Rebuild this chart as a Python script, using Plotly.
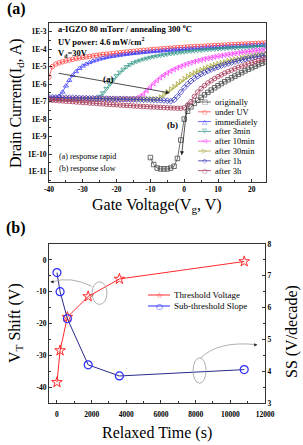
import plotly.graph_objects as go

# ---------------- data (panel a: transfer curves, log10 of drain current) ----------------
gate_voltage = list(range(-40, 25))

log_originally = [None] * 30 + [
    -10.2, -10.6, -10.8, -10.85, -10.85, -10.85, -10.8, -10.7, -10.25, -9.2,
    -8.0, -7.55, -7.3, -7.1, -6.92, -6.76, -6.61, -6.47, -6.34, -6.21,
    -6.09, -5.97, -5.86, -5.75, -5.64, -5.54, -5.44, -5.34, -5.24, -5.15,
    -5.06, -4.97, -4.88, -4.8, -4.72]
log_under_uv = [
    -5.6, -5.0, -4.85, -4.78, -4.72, -4.67, -4.62, -4.58, -4.54, -4.5,
    -4.47, -4.44, -4.41, -4.38, -4.35, -4.33, -4.3, -4.28, -4.26, -4.24,
    -4.22, -4.2, -4.18, -4.16, -4.14, -4.12, -4.1, -4.08, -4.06, -4.05,
    -4.03, -4.01, -4.0, -3.98, -3.97, -3.95, -3.94, -3.92, -3.91, -3.9,
    -3.88, -3.87, -3.86, -3.85, -3.84, -3.83, -3.82, -3.81, -3.8, -3.79,
    -3.78, -3.77, -3.76, -3.75, -3.74, -3.73, -3.72, -3.71, -3.7, -3.69,
    -3.68, -3.67, -3.66, -3.65, -3.64]
log_immediately = [
    -6.8, -6.8, -6.78, -6.7, -6.45, -6.1, -5.78, -5.5, -5.28, -5.1,
    -4.96, -4.85, -4.76, -4.68, -4.62, -4.56, -4.51, -4.47, -4.43, -4.4,
    -4.37, -4.34, -4.31, -4.29, -4.26, -4.24, -4.22, -4.2, -4.18, -4.16,
    -4.14, -4.13, -4.11, -4.1, -4.08, -4.07, -4.05, -4.04, -4.03, -4.01,
    -4.0, -3.99, -3.98, -3.97, -3.96, -3.95, -3.94, -3.93, -3.92, -3.91,
    -3.9, -3.89, -3.88, -3.87, -3.86, -3.85, -3.84, -3.83, -3.82, -3.81,
    -3.8, -3.79, -3.78, -3.77, -3.76]
log_after_3min = [
    -6.85, -6.85, -6.85, -6.85, -6.85, -6.85, -6.85, -6.85, -6.85, -6.85,
    -6.85, -6.85, -6.85, -6.85, -6.8, -6.7, -6.5, -6.25, -6.0, -5.75,
    -5.52, -5.32, -5.15, -5.0, -4.88, -4.78, -4.7, -4.63, -4.57, -4.52,
    -4.47, -4.43, -4.39, -4.35, -4.32, -4.29, -4.26, -4.23, -4.21, -4.18,
    -4.16, -4.14, -4.12, -4.1, -4.08, -4.06, -4.04, -4.03, -4.01, -4.0,
    -3.98, -3.97, -3.96, -3.94, -3.93, -3.92, -3.91, -3.9, -3.89, -3.88,
    -3.87, -3.86, -3.85, -3.84, -3.83]
log_after_10min = [
    -6.85, -6.85, -6.85, -6.85, -6.85, -6.85, -6.85, -6.85, -6.85, -6.85,
    -6.85, -6.85, -6.85, -6.85, -6.85, -6.85, -6.85, -6.85, -6.85, -6.85,
    -6.85, -6.85, -6.85, -6.85, -6.85, -6.85, -6.8, -6.7, -6.55, -6.35,
    -6.15, -5.95, -5.78, -5.62, -5.48, -5.36, -5.25, -5.15, -5.06, -4.98,
    -4.9, -4.83, -4.77, -4.71, -4.66, -4.61, -4.56, -4.52, -4.48, -4.44,
    -4.4, -4.37, -4.33, -4.3, -4.27, -4.24, -4.21, -4.18, -4.16, -4.13,
    -4.11, -4.08, -4.06, -4.04, -4.02]
log_after_30min = [
    -6.85, -6.85, -6.85, -6.85, -6.85, -6.85, -6.85, -6.85, -6.85, -6.85,
    -6.85, -6.85, -6.85, -6.85, -6.85, -6.85, -6.85, -6.85, -6.85, -6.85,
    -6.85, -6.85, -6.85, -6.85, -6.85, -6.85, -6.85, -6.85, -6.85, -6.85,
    -6.85, -6.85, -6.85, -6.75, -6.6, -6.45, -6.3, -6.15, -6.0, -5.85,
    -5.7, -5.57, -5.45, -5.35, -5.26, -5.18, -5.1, -5.03, -4.96, -4.9,
    -4.84, -4.78, -4.73, -4.68, -4.63, -4.59, -4.55, -4.51, -4.47, -4.43,
    -4.4, -4.36, -4.33, -4.3, -4.27]
log_after_1h = [
    -6.75, -6.75, -6.76, -6.76, -6.77, -6.77, -6.78, -6.78, -6.79, -6.79,
    -6.8, -6.8, -6.81, -6.81, -6.82, -6.82, -6.83, -6.83, -6.84, -6.84,
    -6.85, -6.85, -6.86, -6.86, -6.87, -6.87, -6.88, -6.88, -6.89, -6.89,
    -6.9, -6.9, -6.91, -6.92, -6.93, -6.95, -6.97, -6.9, -6.7, -6.45,
    -6.2, -6.0, -5.82, -5.67, -5.54, -5.43, -5.33, -5.24, -5.16, -5.08,
    -5.01, -4.94, -4.88, -4.82, -4.76, -4.71, -4.66, -4.61, -4.56, -4.52,
    -4.48, -4.44, -4.4, -4.37, -4.34]
log_after_3h = [
    -6.9, -6.92, -6.93, -6.95, -6.96, -6.98, -6.99, -7.0, -7.02, -7.03,
    -7.05, -7.06, -7.08, -7.09, -7.1, -7.12, -7.13, -7.15, -7.16, -7.17,
    -7.18, -7.2, -7.21, -7.22, -7.23, -7.25, -7.26, -7.27, -7.28, -7.29,
    -7.3, -7.31, -7.32, -7.33, -7.34, -7.35, -7.36, -7.37, -7.38, -7.38,
    -7.35, -7.2, -7.0, -6.7, -6.45, -6.25, -6.08, -5.93, -5.8, -5.68,
    -5.57, -5.47, -5.37, -5.28, -5.2, -5.12, -5.04, -4.97, -4.9, -4.83,
    -4.77, -4.71, -4.65, -4.6, -4.55]

series_names = ["originally", "under UV", "immediately", "after 3min",
                "after 10min", "after 30min", "after 1h", "after 3h"]

# ---------------- data (panel b) ----------------
relaxed_time = [0, 180, 600, 1800, 3600, 10800]
vt_shift = [-38.5, -28.5, -18.0, -11.5, -6.0, -0.5]
sub_threshold_slope = [7.1, 6.5, 5.65, 4.2, 3.85, 4.05]

xa_ticks = [-40, -30, -20, -10, 0, 10, 20]
ya_ticks = [-11, -10, -9, -8, -7, -6, -5, -4, -3]
xb_ticks = [0, 2000, 4000, 6000, 8000, 10000, 12000]
yb_ticks = [0, -10, -20, -30, -40]
yc_ticks = [3, 4, 5, 6, 7, 8]

# ---------------- styling ----------------
W, H = 303, 445
SERIF = "Liberation Serif"


def px(x):
    return x / W


def py(y):
    return 1 - y / H


curves = [log_originally, log_under_uv, log_immediately, log_after_3min,
          log_after_10min, log_after_30min, log_after_1h, log_after_3h]
colors = ["#4a4a4a", "#ff4a4a", "#4040ff", "#35998a",
          "#ff40ff", "#a9a83a", "#3a3ab8", "#a83a58"]
symbols = ["square-open", "circle-open", "triangle-up-open", "triangle-down-open",
           "triangle-left-open", "triangle-right-open", "diamond-open", "circle-open"]
glyphs = ["\u25a1", "\u25cb", "\u25b3", "\u25bd", "\u25c1", "\u25b7", "\u25c7", "\u25cb"]

fig = go.Figure()

for name, vals, col, sym in zip(series_names, curves, colors, symbols):
    fig.add_trace(go.Scatter(
        x=gate_voltage,
        y=[None if v is None else 10 ** v for v in vals],
        mode="lines+markers", name=name, showlegend=False,
        line=dict(color=col, width=0.8),
        marker=dict(symbol=sym, size=4.5, color=col, line=dict(width=0.8, color=col)),
        xaxis="x", yaxis="y"))

fig.add_trace(go.Scatter(
    x=relaxed_time, y=vt_shift, mode="lines+markers", name="Threshold Voltage",
    showlegend=False, line=dict(color="#ff2a2a", width=1),
    marker=dict(symbol="star-open", size=8, color="#ff2a2a", line=dict(width=1, color="#ff2a2a")),
    xaxis="x2", yaxis="y2"))
fig.add_trace(go.Scatter(
    x=relaxed_time, y=sub_threshold_slope, mode="lines+markers", name="Sub-threshold Slope",
    showlegend=False, line=dict(color="#2a2a8c", width=1),
    marker=dict(symbol="circle-open", size=8, color="#2a2aff", line=dict(width=1.2, color="#2a2aff")),
    xaxis="x2", yaxis="y3"))

tickfont = dict(family=SERIF, size=7.5, color="black", weight="bold")
common = dict(showgrid=False, zeroline=False, showline=True, linecolor="#333",
              linewidth=1, ticks="inside", ticklen=3, tickcolor="#333",
              tickfont=tickfont, automargin=False)

fig.update_layout(
    width=W, height=H, margin=dict(l=0, r=0, t=0, b=0),
    paper_bgcolor="white", plot_bgcolor="white",
    xaxis=dict(domain=[px(49), px(266)], range=[-40, 24.2], anchor="y", mirror=True,
               tickvals=xa_ticks, ticktext=[str(v) for v in xa_ticks],
               minor=dict(tickmode="linear", tick0=0, dtick=5, ticks="inside", ticklen=2,
                          tickcolor="#333"), **common),
    yaxis=dict(domain=[py(182), py(23)], type="log", range=[-11.6, -2.5], anchor="x",
               mirror=True, tickvals=[10 ** v for v in ya_ticks],
               ticktext=["1E%d" % v for v in ya_ticks],
               minor=dict(tickmode="linear", tick0=0, dtick=0.5, ticks="inside", ticklen=2,
                          tickcolor="#333"), **common),
    xaxis2=dict(domain=[px(49), px(265)], range=[-460, 12000], anchor="y2", mirror=True,
                tickvals=xb_ticks, ticktext=[str(v) for v in xb_ticks], ticklabelstandoff=4,
                minor=dict(tickmode="linear", tick0=0, dtick=1000, ticks="inside", ticklen=2,
                           tickcolor="#333"), **common),
    yaxis2=dict(domain=[py(403), py(244)], range=[-45, 5], anchor="x2",
                tickvals=yb_ticks, ticktext=[str(v) for v in yb_ticks],
                minor=dict(tickmode="linear", tick0=0, dtick=5, ticks="inside", ticklen=2,
                           tickcolor="#333"), **common),
    yaxis3=dict(range=[3, 8], anchor="x2", overlaying="y2", side="right",
                tickvals=yc_ticks, ticktext=[str(v) for v in yc_ticks],
                minor=dict(tickmode="linear", tick0=0, dtick=0.5, ticks="inside", ticklen=2,
                           tickcolor="#333"), **common),
)

ann = []


def text(x, y, s, size=9, bold=False, xanchor="center", angle=0, family=SERIF, color="black"):
    ann.append(dict(x=x, y=y, xref="paper", yref="paper", text=s, showarrow=False,
                    xanchor=xanchor, yanchor="middle", textangle=angle,
                    font=dict(family=family, size=size, color=color,
                              weight="bold" if bold else "normal")))


# panel labels and axis titles
text(px(16), py(9), "(a)", size=16, bold=True)
text(px(16), py(228), "(b)", size=16, bold=True)
text(px(17), py(103), "Drain Current(I<sub>d</sub>, A)", size=16, angle=-90)
text(px(157), py(205), "Gate Voltage(V<sub>g</sub>, V)", size=16)
text(px(15), py(323), "V<sub>T</sub> Shift (V)", size=16, angle=-90)
text(px(292), py(332), "SS (V/decade)", size=16, angle=-90)
text(px(157), py(433), "Relaxed Time (s)", size=16)

# header notes in panel a
text(px(56), py(29), "a-IGZO 80 mTorr / annealing 300 <sup>o</sup>C", size=8.5, bold=True, xanchor="left")
text(px(56), py(42), "UV power: 4.6 mW/cm<sup>2</sup>", size=8.5, bold=True, xanchor="left")
text(px(56), py(54), "V<sub>d</sub>=30V", size=8.5, bold=True, xanchor="left")
text(px(57), py(157), "(a) response rapid", size=8, xanchor="left")
text(px(57), py(168), "(b) response slow", size=8, xanchor="left")

# arrows in panel a (log axis -> y in log10 units)
ann.append(dict(x=-4.3, y=-6.5, ax=-37.6, ay=-5.36, xref="x", yref="y", axref="x", ayref="y",
                showarrow=True, arrowhead=2, arrowsize=1, arrowwidth=0.8, arrowcolor="#222", text=""))
ann.append(dict(x=-0.77, y=-10.07, ax=1.0, ay=-6.97, xref="x", yref="y", axref="x", ayref="y",
                showarrow=True, arrowhead=2, arrowsize=1, arrowwidth=0.8, arrowcolor="#222", text=""))
ann.append(dict(x=-22.5, y=-5.72, xref="x", yref="y", text="(a)", showarrow=False,
                font=dict(family=SERIF, size=9, color="black", weight="bold")))
ann.append(dict(x=-3.6, y=-8.35, xref="x", yref="y", text="(b)", showarrow=False,
                font=dict(family=SERIF, size=9, color="black", weight="bold")))

shapes = []

# custom legend panel a
for i, (name, col, g) in enumerate(zip(series_names, colors, glyphs)):
    yy = 102 + 9.8 * i
    shapes.append(dict(type="line", xref="paper", yref="paper", x0=px(198), x1=px(211),
                       y0=py(yy), y1=py(yy), line=dict(color=col, width=0.8)))
    text(px(204.5), py(yy), g, size=6.5, family="DejaVu Sans", color=col)
    text(px(213), py(yy), name, size=8.5, xanchor="left")

# custom legend panel b
for i, (name, col, g) in enumerate([("Threshold Voltage", "#ff2a2a", "\u2606"),
                                     ("Sub-threshold Slope", "#2a2aff", "\u25cb")]):
    yy = 295 + 11 * i
    shapes.append(dict(type="line", xref="paper", yref="paper", x0=px(148), x1=px(170),
                       y0=py(yy), y1=py(yy), line=dict(color=col, width=1)))
    text(px(159), py(yy), g, size=8, family="DejaVu Sans", color=col)
    text(px(172), py(yy), name, size=9, xanchor="left")

# ellipses and leader curves in panel b
gray = dict(color="#9a9a9a", width=0.8)
shapes.append(dict(type="circle", xref="x2", yref="y2", x0=2020, x1=2885, y0=-14.0, y1=-6.9,
                   line=gray))
shapes.append(dict(type="path", xref="x2", yref="y2", path="M 2020,-8.3 Q 750,-5.0 -250,-6.9",
                   line=gray))
ann.append(dict(x=-380, y=-6.9, ax=4, ay=0, xref="x2", yref="y2", showarrow=True,
                arrowhead=2, arrowsize=0.8, arrowwidth=0.8, arrowcolor="#222", text=""))
shapes.append(dict(type="circle", xref="x2", yref="y3", x0=7850, x1=8600, y0=3.62, y1=4.42,
                   line=gray))
shapes.append(dict(type="path", xref="x2", yref="y3", path="M 8300,4.42 Q 9300,4.95 11400,4.84",
                   line=gray))
ann.append(dict(x=11560, y=4.83, ax=-4, ay=0, xref="x2", yref="y3", showarrow=True,
                arrowhead=2, arrowsize=0.8, arrowwidth=0.8, arrowcolor="#222", text=""))

fig.update_layout(annotations=ann, shapes=shapes)
fig.write_html("out.html")
